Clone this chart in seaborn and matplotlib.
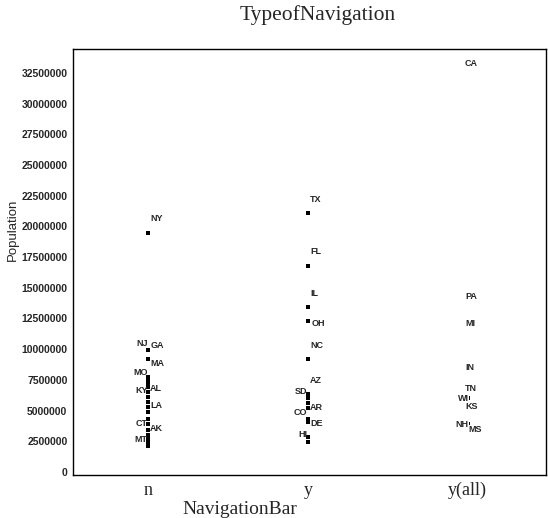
import numpy as np
import pandas as pd
import matplotlib
matplotlib.use("Agg")
import matplotlib.pyplot as plt
import seaborn as sns

# --- data ---
categories = ["n", "y", "y(all)"]

# NavigationBar = n  (empty labels: unlabelled points in the dense stroke)
n_states = ["NY", "NJ", "GA", "MA", "MO", "KY", "AL", "LA", "CT", "AK", "MT",
            "", "", "", "", "", "", "", ""]
n_pop = [19500000, 9900000, 9200000, 7700000, 7500000, 6100000, 5700000,
         4300000, 3400000, 2400000, 2100000,
         7200000, 6900000, 6500000, 5300000, 4900000, 3900000, 3000000, 2700000]

# NavigationBar = y
y_states = ["TX", "FL", "IL", "OH", "NC", "AZ", "SD", "AR", "CO", "DE", "HI", "", ""]
y_pop = [21100000, 16800000, 13400000, 12300000, 9200000, 6350000, 6000000,
         4100000, 4300000, 2850000, 2450000, 5600000, 5200000]

# NavigationBar = y(all)
yall_states = ["CA", "PA", "MI", "IN", "TN", "WI", "KS", "NH", "MS"]
yall_pop = [33300000, 14250000, 12100000, 8500000, 6800000, 6000000,
            5300000, 3900000, 3700000]

y_ticks = np.arange(0, 32500001, 2500000)

# where each label sits relative to its point (style only)
n_side = ["r", "l", "r", "r", "l", "l", "r", "r", "l", "r", "l"] + [""] * 8
y_side = ["r", "r", "r", "e", "r", "r", "l", "r", "l", "r", "l", "", ""]
yall_side = ["c", "c", "c", "c", "c", "k", "c", "k", "d"]

offsets = {
    "r": ((1.5, 10), "left"),
    "l": ((-0.3, 5), "right"),
    "e": ((2.5, -2), "left"),
    "c": ((-2.0, 0), "left"),
    "d": ((0.6, -2.5), "left"),
    "k": ((0.8, 0), "right"),
}

df = pd.DataFrame({
    "NavigationBar": ["n"] * len(n_pop) + ["y"] * len(y_pop) + ["y(all)"] * len(yall_pop),
    "Population": n_pop + y_pop + yall_pop,
    "State": n_states + y_states + yall_states,
    "Side": n_side + y_side + yall_side,
})

sns.set_style("white")
sans = ["Liberation Sans", "DejaVu Sans"]
serif = ["Liberation Serif", "DejaVu Serif"]

fig = plt.figure(figsize=(5.48, 5.18), dpi=100)
ax = fig.add_axes([73 / 548, 43 / 518, 473 / 548, 426 / 518])

sns.stripplot(data=df, x="NavigationBar", y="Population", order=categories,
              jitter=False, marker="s", size=2.2, color="black", linewidth=0, ax=ax)

# state labels (labels in the y(all) column sit on top of their points)
for _, row in df.iterrows():
    if not row["State"]:
        continue
    xpos = categories.index(row["NavigationBar"])
    (dx, dy), ha = offsets[row["Side"]]
    box = None
    if row["Side"] in ("c", "k", "d"):
        box = dict(facecolor="white", edgecolor="none", pad=0.1)
    ax.annotate(row["State"], (xpos, row["Population"]), xytext=(dx, dy),
                textcoords="offset points", ha=ha, va="center",
                fontsize=6.5, fontweight="bold", family=sans, bbox=box)

ax.set_xlim(-0.47, 2.49)
ax.set_ylim(-250000, 34450000)

ax.set_yticks(y_ticks)
ax.set_yticklabels([str(int(v)) for v in y_ticks], family=sans,
                   fontsize=7.5, fontweight="bold")
ax.set_xticks(range(len(categories)))
ax.set_xticklabels(categories, family=serif, fontsize=13)
ax.tick_params(axis="y", length=0, pad=4)
ax.tick_params(axis="x", direction="in", length=3, width=0.8, pad=5)

for s in ax.spines.values():
    s.set_visible(True)
    s.set_color("black")
    s.set_linewidth(1.0)

ax.set_xlabel("NavigationBar", family=serif, fontsize=14)
ax.xaxis.set_label_coords((240 - 73) / 473, -0.06)
ax.set_ylabel("Population", family=sans, fontsize=9.5)
ax.yaxis.set_label_coords((19 - 73) / 473, 0.575)

fig.text(318 / 548, 1 - 15 / 518, "TypeofNavigation", family=serif,
         fontsize=15.5, ha="center", va="center")

fig.savefig("out.png", dpi=100)
